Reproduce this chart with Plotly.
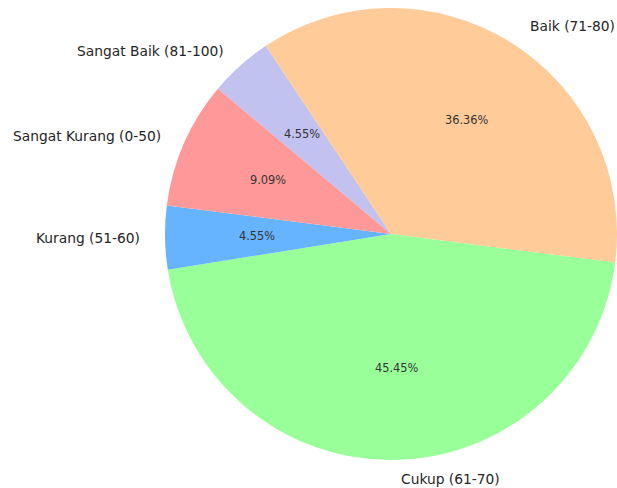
import math
import plotly.graph_objects as go

# ---- data (matplotlib-style order, counterclockwise from 140 degrees) ----
categories = ["Sangat Kurang (0-50)", "Kurang (51-60)", "Cukup (61-70)",
              "Baik (71-80)", "Sangat Baik (81-100)"]
counts = [2, 1, 10, 8, 1]
colors = ["#ff9999", "#66b3ff", "#99ff99", "#ffcc99", "#c2c2f0"]
start_angle = 140  # degrees, counterclockwise from 3 o'clock

W, H = 617, 488
R_PX = 226                      # pie radius in px
CY_PX = 234                     # pie centre from top in px
x0 = 1 - 2 * R_PX / W
cy = (H - CY_PX) / H
cx = (x0 + 1) / 2
dom_y = [cy - 0.47, cy + 0.47]

# plotly draws clockwise; reverse to reproduce the counterclockwise layout
fig = go.Figure(go.Pie(
    labels=categories[::-1],
    values=counts[::-1],
    marker=dict(colors=colors[::-1], line=dict(width=0)),
    sort=False,
    direction="clockwise",
    rotation=90 - start_angle,
    textinfo="none",
    hoverinfo="label+percent",
    showlegend=False,
    domain=dict(x=[x0, 1], y=dom_y),
))

total = sum(counts)
annotations = []
ang = start_angle
RX_T, RY_T = 230, 223  # effective text radii (px)
tcx = cx + 3.5 / W     # text centre (px offset of the reference)
for lab, v in zip(categories, counts):
    span = 360 * v / total
    mid = math.radians(ang + span / 2)
    ang += span
    c, s = math.cos(mid), math.sin(mid)
    # outside label at 1.1 r
    annotations.append(dict(
        x=tcx + 1.1 * RX_T * c / W, y=cy + 1.1 * RY_T * s / H,
        xref="paper", yref="paper", text=lab, showarrow=False,
        xanchor="left" if c > 0 else "right", yanchor="middle",
        font=dict(family="DejaVu Sans", size=13.8, color="#262626"),
    ))
    # percentage at 0.6 r
    annotations.append(dict(
        x=tcx + 0.6 * RX_T * c / W, y=cy + 0.6 * RY_T * s / H,
        xref="paper", yref="paper", text=f"{100 * v / total:.2f}%",
        showarrow=False, xanchor="center", yanchor="middle",
        font=dict(family="DejaVu Sans", size=11.4, color="#333333"),
    ))

fig.update_layout(
    width=W, height=H,
    margin=dict(l=0, r=0, t=0, b=0),
    paper_bgcolor="white", plot_bgcolor="white",
    annotations=annotations,
)
fig.write_html(
    "out.html",
    config={"displayModeBar": False},
    post_script="document.body.style.margin='0';"
                "document.body.style.overflow='hidden';",
)
